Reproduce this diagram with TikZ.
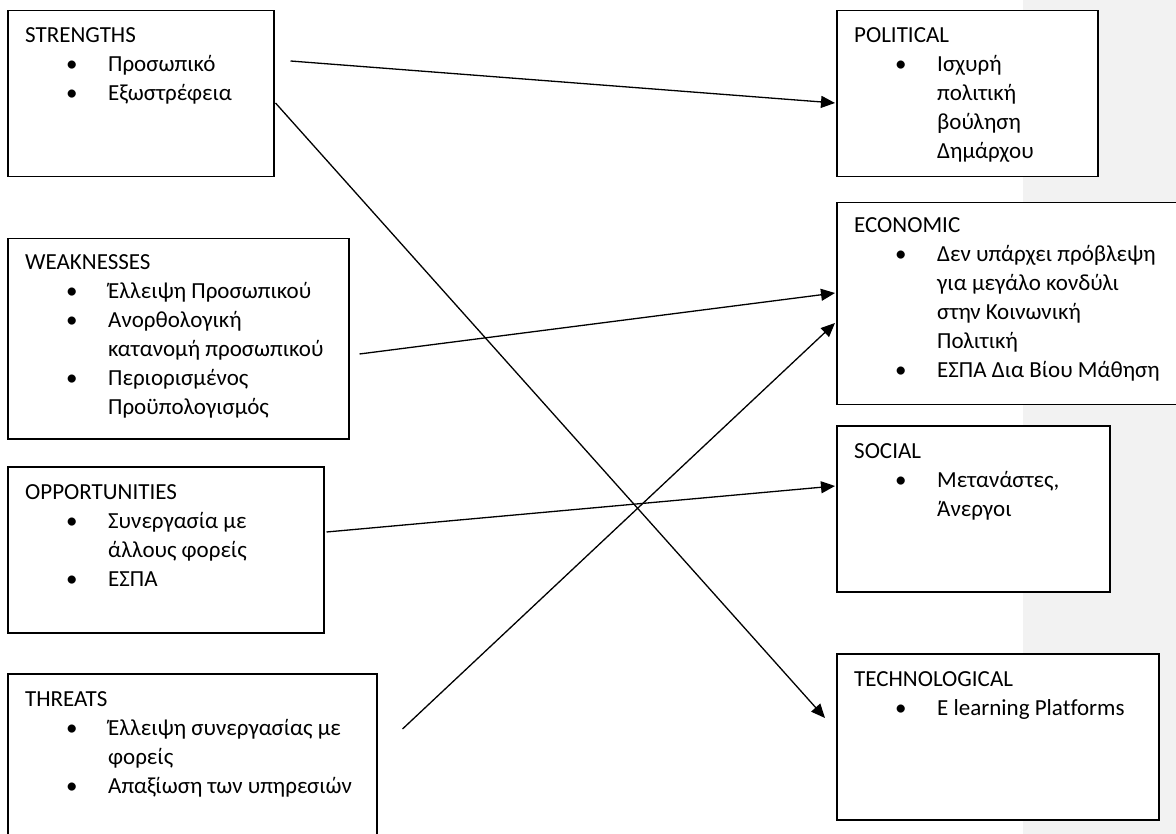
\documentclass[tikz,border=0pt]{standalone}
\usepackage{fontspec}
\setmainfont{Carlito}[Ligatures=NoCommon]
\usetikzlibrary{arrows.meta,calc}
\newcommand{\itm}[1]{\hspace*{41pt}\makebox[42pt][l]{•}#1}
\newcommand{\cnt}[1]{\hspace*{83pt}#1}
\newcommand{\boxtext}[1]{\parbox[t]{340pt}{\fontsize{23}{29}\selectfont\raggedright #1}}
\tikzset{
  frame/.style={draw=black, line width=1.5pt, fill=white, anchor=north west, inner sep=0pt},
  txt/.style={anchor=base west, inner sep=0pt},
  link/.style={line width=1.3pt, -{Triangle[length=14pt,width=12pt]}}
}
\begin{document}
\begin{tikzpicture}[x=1pt,y=-1pt]
\useasboundingbox (0,0) rectangle (1176,834);
\fill[fill={rgb,255:red,242;green,242;blue,242}] (1023,0) rectangle (1176,834);
% left boxes
\node[frame, minimum width=266pt, minimum height=166pt] (S) at (7,10) {};
\node[frame, minimum width=341pt, minimum height=200pt] (W) at (7,238) {};
\node[frame, minimum width=316pt, minimum height=166pt] (O) at (7,466) {};
\node[frame, minimum width=369pt, minimum height=167pt] (T) at (7,673) {};
% right boxes
\node[frame, minimum width=261pt, minimum height=166pt] (P) at (836,10) {};
\node[frame, minimum width=342pt, minimum height=202pt] (E) at (836,202) {};
\node[frame, minimum width=273pt, minimum height=166pt] (So) at (836,425) {};
\node[frame, minimum width=322pt, minimum height=166pt] (Te) at (836,653) {};
% texts
\node[txt] (St) at ($(S.north west)+(18,33)$) {\boxtext{STRENGTHS\\ \itm{Προσωπικό}\\ \itm{Εξωστρέφεια}}};
\node[txt] (Wt) at ($(W.north west)+(18,32)$) {\boxtext{WEAKNESSES\\ \itm{Έλλειψη Προσωπικού}\\ \itm{Ανορθολογική}\\ \cnt{κατανομή προσωπικού}\\ \itm{Περιορισμένος}\\ \cnt{Προϋπολογισμός}}};
\node[txt] (Ot) at ($(O.north west)+(18,33)$) {\boxtext{OPPORTUNITIES\\ \itm{Συνεργασία με}\\ \cnt{άλλους φορείς}\\ \itm{ΕΣΠΑ}}};
\node[txt] (Tt) at ($(T.north west)+(18,33)$) {\boxtext{THREATS\\ \itm{Έλλειψη συνεργασίας με}\\ \cnt{φορείς}\\ \itm{Απαξίωση των υπηρεσιών}}};
\node[txt] (Pt) at ($(P.north west)+(18,33)$) {\boxtext{POLITICAL\\ \itm{Ισχυρή}\\ \cnt{πολιτική}\\ \cnt{βούληση}\\ \cnt{Δημάρχου}}};
\node[txt] (Et) at ($(E.north west)+(18,31)$) {\boxtext{ECONOMIC\\ \itm{Δεν υπάρχει πρόβλεψη}\\ \cnt{για μεγάλο κονδύλι}\\ \cnt{στην Κοινωνική}\\ \cnt{Πολιτική}\\ \itm{ΕΣΠΑ Δια Βίου Μάθηση}}};
\node[txt] (Sot) at ($(So.north west)+(18,33)$) {\boxtext{SOCIAL\\ \itm{Μετανάστες,}\\ \cnt{Άνεργοι}}};
\node[txt] (Tet) at ($(Te.north west)+(18,33)$) {\boxtext{TECHNOLOGICAL\\ \itm{E learning Platforms}}};
% connector ends
\coordinate (s1) at ($(S.north east)+(16,51)$);
\coordinate (s2) at ($(S.north east)+(1,93)$);
\coordinate (w1) at ($(W.north east)+(10,116)$);
\coordinate (o1) at ($(O.north east)+(2,66)$);
\coordinate (t1) at ($(T.north east)+(25,56)$);
\coordinate (p1) at ($(P.north west)+(-1,93)$);
\coordinate (e1) at ($(E.north west)+(-1,91)$);
\coordinate (e2) at ($(E.north west)+(-1,121)$);
\coordinate (so1) at ($(So.north west)+(-1,61)$);
\coordinate (te1) at ($(Te.north west)+(-11,65)$);
\draw[link] (s1) -- (p1);
\draw[link] (s2) -- (te1);
\draw[link] (w1) -- (e1);
\draw[link] (t1) -- (e2);
\draw[link] (o1) -- (so1);
\end{tikzpicture}
\end{document}
